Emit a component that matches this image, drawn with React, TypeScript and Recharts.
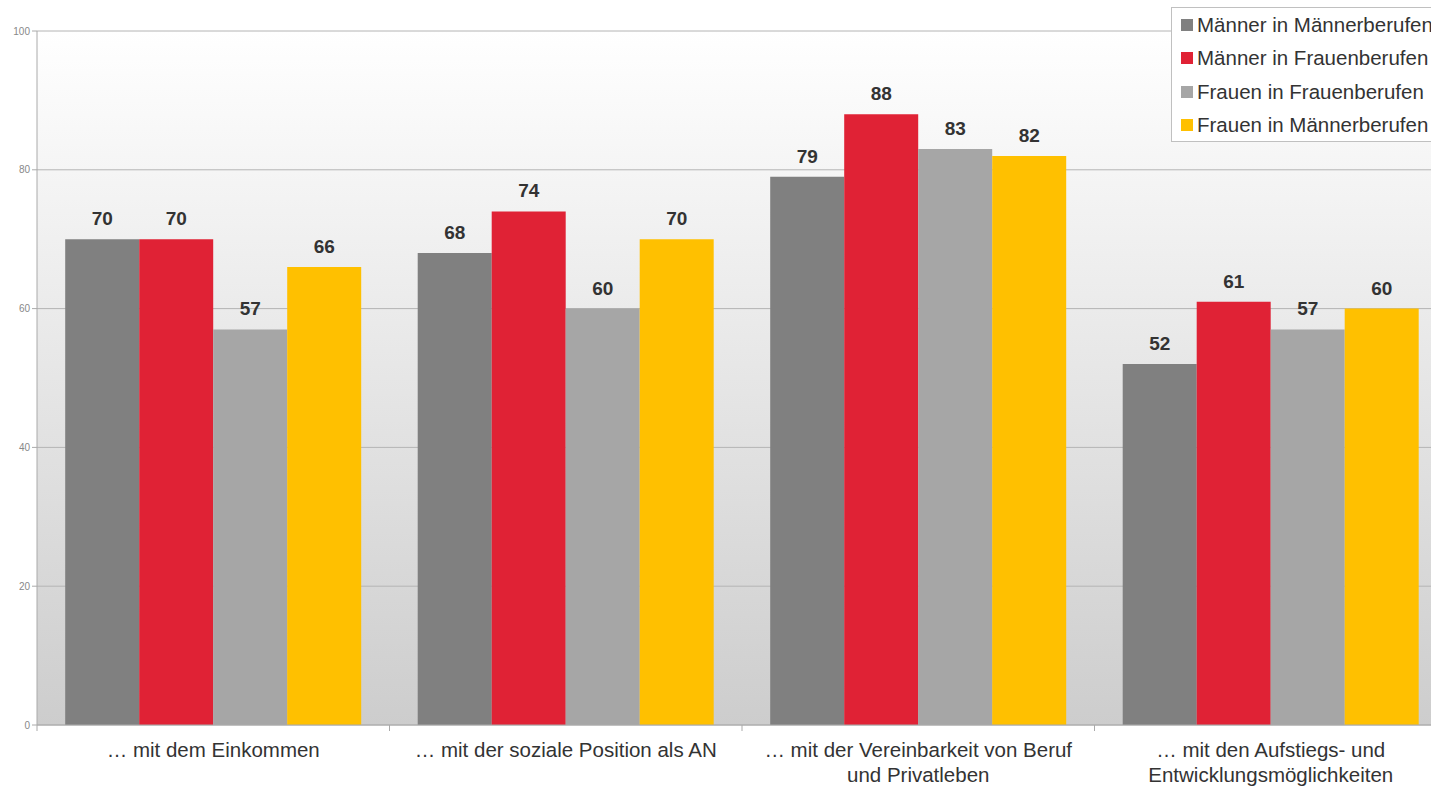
import { BarChart, Bar, XAxis, YAxis, CartesianGrid, Legend, LabelList } from 'recharts';

const categories = [
  '… mit dem Einkommen',
  '… mit der soziale Position als AN',
  '… mit der Vereinbarkeit von Beruf\nund Privatleben',
  '… mit den Aufstiegs- und\nEntwicklungsmöglichkeiten',
];
const maennerInMaennerberufen = [70, 68, 79, 52];
const maennerInFrauenberufen = [70, 74, 88, 61];
const frauenInFrauenberufen = [57, 60, 83, 57];
const frauenInMaennerberufen = [66, 70, 82, 60];
const yTicks = [0, 20, 40, 60, 80, 100];

const series = [
  { key: 'mm', name: 'Männer in Männerberufen', color: '#808080' },
  { key: 'mf', name: 'Männer in Frauenberufen', color: '#E02235' },
  { key: 'ff', name: 'Frauen in Frauenberufen', color: '#A6A6A6' },
  { key: 'fm', name: 'Frauen in Männerberufen', color: '#FFC000' },
];

const data = categories.map((name, i) => ({
  name,
  mm: maennerInMaennerberufen[i],
  mf: maennerInFrauenberufen[i],
  ff: frauenInFrauenberufen[i],
  fm: frauenInMaennerberufen[i],
}));

const font = 'Liberation Sans, Arial, sans-serif';

function CategoryTick(props: any) {
  const { x, y, payload } = props;
  const lines = String(payload.value).split('\n');
  const start = x - (payload.offset || 0);
  return (
    <g>
      <line x1={start} y1={y - 8} x2={start} y2={y - 2} stroke="#aaa" />
      <text x={x} y={y + 24} textAnchor="middle" fill="#333" fontSize={20.5} fontFamily={font}>
        {lines.map((l, i) => (
          <tspan key={i} x={x} dy={i === 0 ? 0 : 25}>{l}</tspan>
        ))}
      </text>
    </g>
  );
}

function LegendBox() {
  return (
    <div style={{ position: 'absolute', left: 1171, top: 7, width: 290, height: 135, background: '#fff', border: '1px solid #c0c0c0', boxSizing: 'border-box', paddingTop: 0 }}>
      {series.map((s) => (
        <div key={s.key} style={{ display: 'flex', alignItems: 'center', height: 33.5, paddingLeft: 9 }}>
          <span style={{ width: 12, height: 12, background: s.color, marginRight: 4, display: 'inline-block' }} />
          <span style={{ fontFamily: font, fontSize: 20.5, color: '#333', whiteSpace: 'nowrap' }}>{s.name}</span>
        </div>
      ))}
    </div>
  );
}

export default function App() {
  return (
    <div style={{ position: 'absolute', left: 0, top: 0, width: 1431, height: 786, overflow: 'hidden', background: '#fff' }}>
      <BarChart
        width={1460}
        height={786}
        data={data}
        margin={{ top: 31, right: 13, bottom: 0, left: 0 }}
        barCategoryGap="8%"
        barGap={0}
      >
        <defs>
          <linearGradient id="bg" x1="0" y1="0" x2="0" y2="1">
            <stop offset="0%" stopColor="#ffffff" />
            <stop offset="100%" stopColor="#cdcdcd" />
          </linearGradient>
        </defs>
        <CartesianGrid vertical={false} stroke="#b4b4b4" fill="url(#bg)" fillOpacity={1} />
        <XAxis
          dataKey="name"
          height={61}
          axisLine={{ stroke: '#aaa' }}
          tickLine={false}
          tick={<CategoryTick />}
          interval={0}
        />
        <YAxis
          width={37}
          domain={[0, 100]}
          ticks={yTicks}
          axisLine={{ stroke: '#aaa' }}
          tickLine={{ stroke: '#aaa' }}
          tickSize={5}
          tick={{ fontSize: 10, fill: '#888', fontFamily: font }}
        />
        <Legend content={() => null} />
        {series.map((s) => (
          <Bar key={s.key} dataKey={s.key} name={s.name} fill={s.color} isAnimationActive={false}>
            <LabelList dataKey={s.key} position="top" offset={14} fill="#333" fontSize={19} fontWeight="bold" fontFamily={font} />
          </Bar>
        ))}
      </BarChart>
      <LegendBox />
    </div>
  );
}
